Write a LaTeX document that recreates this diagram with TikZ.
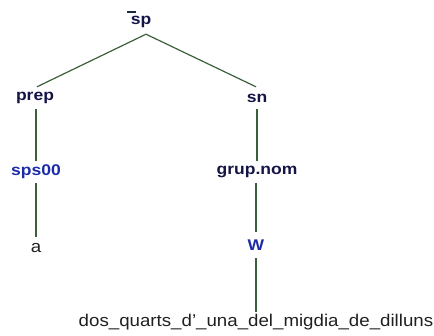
\documentclass[tikz,border=0pt]{standalone}
\usepackage{fontspec}
\setmainfont{Liberation Sans}
\newfontfamily\labfont{Liberation Sans}[FakeStretch=1.13]
\newfontfamily\leaffont{Liberation Sans}[FakeStretch=1.1]
\definecolor{navy}{HTML}{141446}
\definecolor{catblue}{HTML}{1C2CA8}
\definecolor{edgegreen}{HTML}{3A5F3A}
\definecolor{leafgrey}{HTML}{202020}
\begin{document}
\begin{tikzpicture}[x=1pt,y=-1pt,
  catlab/.style={font=\labfont\fontsize{15.5}{15.5}\selectfont\bfseries, text=navy, inner sep=0pt, minimum height=22pt},
  poslab/.style={catlab, text=catblue},
  leaflab/.style={font=\leaffont\fontsize{17}{17}\selectfont, text=leafgrey, inner sep=0pt, minimum height=22pt},
  conn/.style={draw=edgegreen, line width=1.2pt}]
\useasboundingbox (0,0) rectangle (434,336);
\node[catlab] (sp) at (141,22) {sp};
\node[catlab] (prep) at (35,98) {prep};
\node[catlab] (sn) at (257,98) {sn};
\node[poslab] (sps) at (36,172) {sps00};
\node[catlab] (grup) at (257,172) {grup.nom};
\node[leaflab] (a) at (36,248) {a};
\node[poslab, minimum height=26pt] (w) at (256,245) {W};
\node[leaflab, minimum height=0pt, inner ysep=2.5pt, anchor=base] (dos) at (256,327) {dos\_quarts\_d’\_una\_del\_migdia\_de\_dilluns};
\coordinate (m1) at (127,12);
\coordinate (m2) at (136,12);
\draw[conn, draw=navy!70!edgegreen] (m1) -- (m2);
\draw[conn] ([xshift=5pt,yshift=-1pt]sp.south) -- ([xshift=2pt]prep.north);
\draw[conn] ([xshift=5pt,yshift=-1pt]sp.south) -- ([xshift=-1pt]sn.north);
\draw[conn] ([xshift=1pt]prep.south) -- (sps.north);
\draw[conn] (sps.south) -- (a.north);
\draw[conn] (sn.south) -- (grup.north);
\draw[conn] ([xshift=-1pt]grup.south) -- (w.north);
\draw[conn] (w.south) -- (w.south |- dos.north);
\end{tikzpicture}
\end{document}
